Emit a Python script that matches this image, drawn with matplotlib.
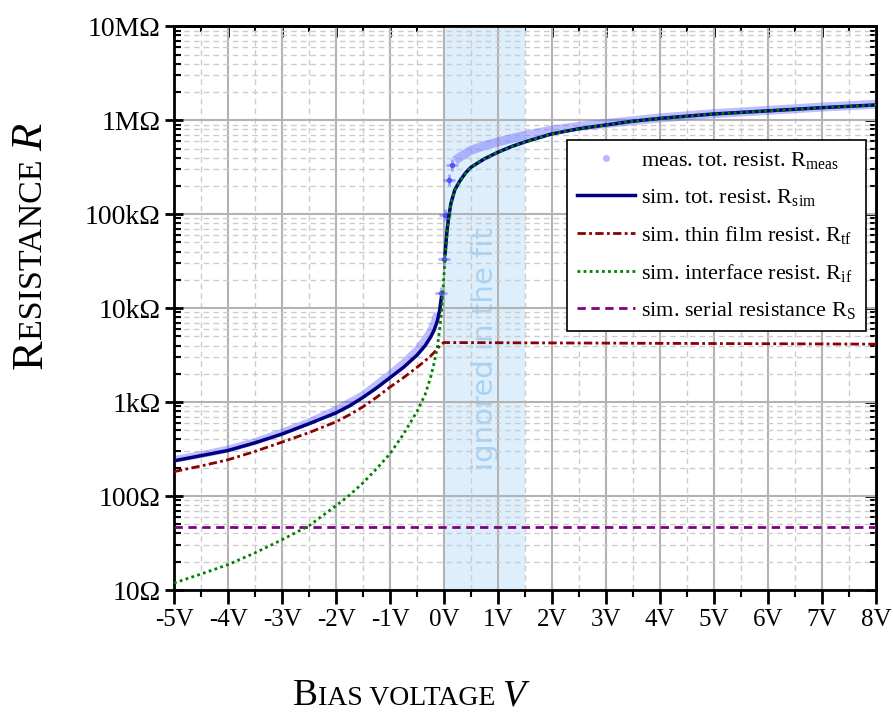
import numpy as np
import matplotlib
matplotlib.use("Agg")
import matplotlib.pyplot as plt
from matplotlib.lines import Line2D
from matplotlib.ticker import LogLocator, NullFormatter, MultipleLocator

plt.rcParams['font.family'] = ['Liberation Serif', 'DejaVu Serif']
plt.rcParams['mathtext.fontset'] = 'custom'
plt.rcParams['mathtext.rm'] = 'Liberation Serif'
plt.rcParams['mathtext.it'] = 'Liberation Serif:italic'

# ---- data (voltage in V, log10 of resistance in Ohm) ----
v_neg = [-5, -4.5, -4, -3.5, -3, -2.5, -2, -1.75, -1.5, -1.25, -1, -0.75, -0.5, -0.35, -0.25, -0.18, -0.12, -0.08, -0.05]
sim_neg = [2.375, 2.43, 2.485, 2.567, 2.66, 2.77, 2.885, 2.96, 3.05, 3.15, 3.26, 3.37, 3.50, 3.60, 3.69, 3.77, 3.87, 3.98, 4.11]
tf_neg = [2.26, 2.32, 2.386, 2.475, 2.574, 2.675, 2.79, 2.865, 2.95, 3.05, 3.16, 3.26, 3.37, 3.44, 3.49, 3.53, 3.57, 3.60, 3.62]
if_neg = [1.074, 1.17, 1.27, 1.395, 1.535, 1.684, 1.897, 2.01, 2.14, 2.29, 2.45, 2.66, 2.90, 3.08, 3.26, 3.42, 3.60, 3.78, 3.93]

v_pos = [0.02, 0.04, 0.06, 0.09, 0.13, 0.2, 0.3, 0.4, 0.5, 0.75, 1, 1.25, 1.5, 2, 2.5, 3, 3.5, 4, 5, 6, 7, 8]
sim_pos = [4.58, 4.72, 4.85, 4.98, 5.12, 5.26, 5.36, 5.44, 5.50, 5.59, 5.66, 5.72, 5.77, 5.855, 5.91, 5.95, 5.99, 6.02, 6.067, 6.10, 6.134, 6.163]
if_pos = [4.53, 4.69, 4.83, 4.97, 5.11, 5.255, 5.355, 5.437, 5.498, 5.588, 5.659, 5.719, 5.769, 5.854, 5.909, 5.949, 5.989, 6.019, 6.066, 6.099, 6.133, 6.162]
v_tf_flat = [0, 8]
tf_flat = [3.634, 3.617]
r_serial = 46.5

v_meas_neg = [-5, -4.5, -4, -3.5, -3, -2.5, -2, -1.5, -1, -0.75, -0.5, -0.35, -0.25, -0.18, -0.13]
meas_neg = [2.39, 2.44, 2.50, 2.58, 2.68, 2.79, 2.92, 3.08, 3.30, 3.42, 3.56, 3.67, 3.76, 3.85, 3.95]
v_meas_iso = [-0.05, 0.0, 0.01, 0.1, 0.15]
meas_iso = [4.16, 4.52, 4.99, 5.36, 5.52]
v_meas_pos = [0.2, 0.3, 0.5, 0.75, 1, 1.5, 2, 2.5, 3, 4, 5, 6, 7, 8]
meas_pos = [5.57, 5.61, 5.68, 5.73, 5.77, 5.84, 5.895, 5.935, 5.965, 6.025, 6.07, 6.105, 6.14, 6.17]

x_ticks = [-5, -4, -3, -2, -1, 0, 1, 2, 3, 4, 5, 6, 7, 8]
x_labels = ['-5V', '-4V', '-3V', '-2V', '-1V', '0V', '1V', '2V', '3V', '4V', '5V', '6V', '7V', '8V']
y_ticks = [1e1, 1e2, 1e3, 1e4, 1e5, 1e6, 1e7]
y_labels = ['10Ω', '100Ω', '1kΩ', '10kΩ', '100kΩ', '1MΩ', '10MΩ']

legend_labels = [r'meas. tot. resist. R$_{\rm meas}$',
                 r'sim. tot. resist. R$_{\rm sim}$',
                 r'sim. thin film resist. R$_{\rm tf}$',
                 r'sim. interface resist. R$_{\rm if}$',
                 r'sim. serial resistance R$_{\rm S}$']

def lin(a):
    return 10 ** np.asarray(a)

fig = plt.figure(figsize=(8.93, 7.12), dpi=100)
ax = fig.add_axes([174 / 893, 1 - 590 / 712, 702 / 893, (590 - 26.3) / 712])
ax.set_yscale('log')
ax.set_xlim(-5, 8)
ax.set_ylim(10, 1e7)
ax.set_axisbelow(True)

# region excluded from fit
ax.axvspan(0, 1.5, color='#ddeefc', zorder=0.1, lw=0)
ax.text(0.76, 10 ** 3.567, 'ignored in the fit', rotation=90, ha='center', va='center',
        fontsize=21, color='#a9d1f2', family='DejaVu Sans', zorder=0.3)

# measured data
mcol = '#5c5cff'
ax.plot(v_meas_neg, lin(meas_neg), color=mcol, lw=5, alpha=0.4, solid_capstyle='butt', zorder=2)
ax.plot(v_meas_pos, lin(meas_pos), color=mcol, lw=6.5, alpha=0.4, solid_capstyle='butt', zorder=2)
ax.plot(v_meas_iso, lin(meas_iso), ls='none', marker='+', ms=9, mew=2, color=mcol, alpha=0.5, zorder=2)
ax.plot(v_meas_iso, lin(meas_iso), ls='none', marker='o', ms=3, color='#3030ff', alpha=0.6, zorder=2)

# simulations
ax.plot(v_neg, lin(sim_neg), color='#000080', lw=2.5, zorder=3)
ax.plot(v_pos, lin(sim_pos), color='#000080', lw=2.5, zorder=3)
ax.plot(v_neg + v_tf_flat, lin(tf_neg + tf_flat), color='#8b0000', lw=2,
        dashes=(3, 1.2, 1, 1.2), zorder=4)
ax.plot(v_neg + v_pos, lin(if_neg + if_pos), color='#008000', lw=2,
        ls=(0, (1, 1.2)), zorder=5)
ax.axhline(r_serial, color='#800080', lw=2, ls=(0, (3, 2)), zorder=4)

# ticks and grid
ax.set_xticks(x_ticks, labels=x_labels)
ax.xaxis.set_minor_locator(MultipleLocator(0.5))
ax.set_yticks(y_ticks, labels=y_labels)
ax.yaxis.set_minor_locator(LogLocator(base=10, subs=np.arange(2, 10)))
ax.yaxis.set_minor_formatter(NullFormatter())
ax.tick_params(axis='x', which='major', direction='out', length=10, width=2, labelsize=18, pad=4)
ax.tick_params(axis='x', which='minor', direction='out', length=5, width=1.5)
ax.tick_params(axis='y', which='major', direction='inout', length=13, width=2, labelsize=20, pad=3)
ax.tick_params(axis='y', which='minor', direction='in', length=5, width=1.5)
ax.grid(which='major', color='#b3b3b3', lw=1.5, ls='-')
ax.grid(which='minor', color='#cccccc', lw=1, ls=(0, (4, 3)))
for s in ax.spines.values():
    s.set_linewidth(2)

secx = ax.secondary_xaxis('top')
secx.set_xticks(x_ticks, labels=[])
secx.xaxis.set_minor_locator(MultipleLocator(0.5))
secx.tick_params(which='major', direction='in', length=8, width=2)
secx.tick_params(which='minor', direction='in', length=4, width=1.5)
secx.spines['top'].set_linewidth(2)

secy = ax.secondary_yaxis('right')
secy.set_yticks(y_ticks, labels=[])
secy.yaxis.set_minor_locator(LogLocator(base=10, subs=np.arange(2, 10)))
secy.yaxis.set_minor_formatter(NullFormatter())
secy.tick_params(which='major', direction='in', length=8, width=2)
secy.tick_params(which='minor', direction='in', length=4, width=1.5)
secy.spines['right'].set_linewidth(2)

# legend
handles = [Line2D([], [], ls='none', marker='o', ms=4, color='#b8b8ff'),
           Line2D([], [], color='#000080', lw=2.5),
           Line2D([], [], color='#8b0000', lw=2, dashes=(3, 1.2, 1, 1.2)),
           Line2D([], [], color='#008000', lw=2, ls=(0, (1, 1.2))),
           Line2D([], [], color='#800080', lw=2, ls=(0, (3, 2)))]
leg = ax.legend(handles, legend_labels, loc='upper right', bbox_to_anchor=(0.986, 0.798),
                borderaxespad=0, fontsize=16, frameon=True, fancybox=False, framealpha=1,
                edgecolor='black', handlelength=2.6, handletextpad=0.3, labelspacing=0.72,
                borderpad=0.45)
leg.get_frame().set_linewidth(1.2)
leg.set_zorder(10)

# small-caps axis labels, pieces placed one after the other
fig.canvas.draw()
renderer = fig.canvas.get_renderer()
W, H = fig.get_size_inches() * fig.dpi

def smallcaps(parts, x0, y0, rotation=0, center=False):
    texts = []
    x, y = x0, y0
    for txt, size, style in parts:
        t = fig.text(x / W, y / H, txt, fontsize=size, style=style, ha='left', va='baseline',
                     rotation=rotation, rotation_mode='anchor')
        bb = t.get_window_extent(renderer)
        texts.append(t)
        if rotation == 0:
            x = bb.x1
        else:
            y = bb.y1
    if center:
        # shift so the whole label is centred on the given point
        if rotation == 0:
            shift = (x - x0) / 2
            for t in texts:
                px, py = t.get_position()
                t.set_position((px - shift / W, py))
        else:
            shift = (y - y0) / 2
            for t in texts:
                px, py = t.get_position()
                t.set_position((px, py - shift / H))

smallcaps([('B', 27, 'normal'), ('IAS VOLTAGE ', 20, 'normal'), ('V', 27, 'italic')], 293, 712 - 705)
smallcaps([('R', 32, 'normal'), ('ESISTANCE ', 24.5, 'normal'), ('R', 32, 'italic')], 42, 712 - 246.5,
          rotation=90, center=True)

fig.savefig('out.png', dpi=100)
